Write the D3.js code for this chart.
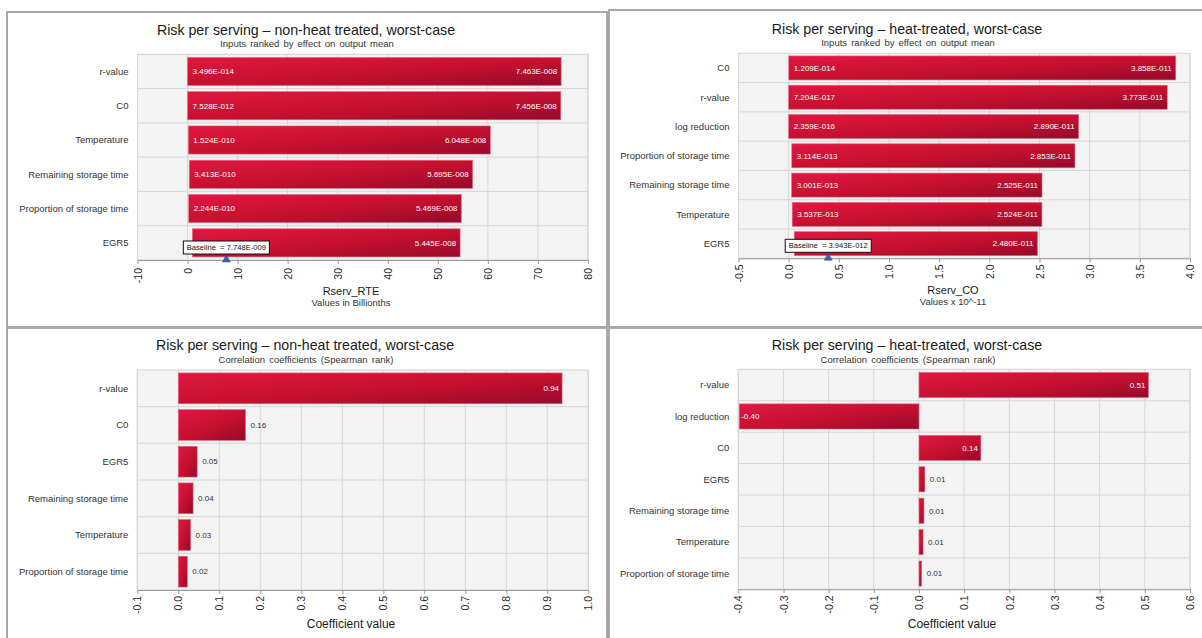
<!DOCTYPE html>
<html><head><meta charset="utf-8">
<script src="https://cdn.jsdelivr.net/npm/d3@7"></script>
<style>
html,body{margin:0;padding:0;background:#fff;}
svg{display:block;font-family:"Liberation Sans",Arial,sans-serif;}
</style></head>
<body>
<svg id="chart" width="1202" height="638"></svg>
<script>
// ---------- DATA ----------
// Top-left tornado: Rserv_RTE (values in billionths)
const tlCategories = ["r-value","C0","Temperature","Remaining storage time","Proportion of storage time","EGR5"];
const tlLow  = [3.496e-5, 0.007528, 0.1524, 0.3413, 0.2244, 0.96];
const tlHigh = [74.63, 74.56, 60.48, 56.95, 54.69, 54.45];
const tlBaseline = 7.748;
const tlTicks = [-10,0,10,20,30,40,50,60,70,80];

// Top-right tornado: Rserv_CO (values x 10^-11)
const trCategories = ["C0","r-value","log reduction","Proportion of storage time","Remaining storage time","Temperature","EGR5"];
const trLow  = [0.001209, 7.204e-6, 2.359e-5, 0.03114, 0.03001, 0.03537, 0.056];
const trHigh = [3.858, 3.773, 2.890, 2.853, 2.525, 2.524, 2.480];
const trBaseline = 0.3943;
const trTicks = [-0.5,0,0.5,1.0,1.5,2.0,2.5,3.0,3.5,4.0];

// Bottom-left: Spearman correlation, non-heat treated
const blCategories = ["r-value","C0","EGR5","Remaining storage time","Temperature","Proportion of storage time"];
const blValues = [0.936, 0.164, 0.046, 0.036, 0.030, 0.022];
const blTicks = [-0.1,0,0.1,0.2,0.3,0.4,0.5,0.6,0.7,0.8,0.9,1.0];

// Bottom-right: Spearman correlation, heat-treated
const brCategories = ["r-value","log reduction","C0","EGR5","Remaining storage time","Temperature","Proportion of storage time"];
const brValues = [0.508, -0.398, 0.137, 0.013, 0.011, 0.009, 0.006];
const brTicks = [-0.4,-0.3,-0.2,-0.1,0,0.1,0.2,0.3,0.4,0.5,0.6];

// ---------- HELPERS ----------
const svg = d3.select("#chart");
const defs = svg.append("defs");
const grad = defs.append("linearGradient").attr("id","barGrad")
  .attr("x1",0).attr("y1",0).attr("x2",1).attr("y2",1);
grad.append("stop").attr("offset","0%").attr("stop-color","#e0173f");
grad.append("stop").attr("offset","55%").attr("stop-color","#c4102f");
grad.append("stop").attr("offset","100%").attr("stop-color","#960a2a");

function sciLabel(v){
  const s = v.toExponential(3);            // e.g. 3.496e-14
  const [m,e] = s.split("e");
  const n = parseInt(e,10);
  const sign = n < 0 ? "-" : "+";
  return m + "E" + sign + String(Math.abs(n)).padStart(3,"0");
}
const f1 = v => (Math.abs(v) < 1e-9 ? 0 : v).toFixed(1);
const f2 = v => v.toFixed(2);

// panel borders
const panels = [[7,12,600,315],[609,10,600,317],[7,328,600,320],[609,328,600,320]];
svg.selectAll("rect.panel").data(panels).join("rect").attr("class","panel")
  .attr("x",d=>d[0]).attr("y",d=>d[1]).attr("width",d=>d[2]).attr("height",d=>d[3])
  .attr("fill","none").attr("stroke","#a9a9a9").attr("stroke-width",2);

function frame(L){
  const g = svg.append("g");
  const x = d3.scaleLinear().domain(L.domain).range([L.l, L.r]);
  const y = d3.scaleBand().domain(L.categories).range([L.t, L.b])
    .paddingInner(L.pad).paddingOuter(L.pad/2);
  g.append("rect").attr("x",L.l).attr("y",L.t).attr("width",L.r-L.l).attr("height",L.b-L.t)
    .attr("fill","#f3f3f3").attr("stroke","#d2d2d2");
  // vertical grid
  g.selectAll("line.vg").data(L.ticks).join("line").attr("class","vg")
    .attr("x1",d=>x(d)).attr("x2",d=>x(d)).attr("y1",L.t).attr("y2",L.b)
    .attr("stroke","#d6d6d6").attr("stroke-width",1);
  // horizontal row separators
  const step = y.step();
  g.selectAll("line.hg").data(L.categories.slice(1)).join("line").attr("class","hg")
    .attr("x1",L.l).attr("x2",L.r)
    .attr("y1",(d,i)=>L.t + step*(i+1)).attr("y2",(d,i)=>L.t + step*(i+1))
    .attr("stroke","#d6d6d6").attr("stroke-width",1);
  // axis
  const ax = g.append("g").attr("transform",`translate(0,${L.b})`)
    .call(d3.axisBottom(x).tickValues(L.ticks).tickFormat(L.tickFmt).tickSize(4).tickSizeOuter(0));
  ax.select(".domain").attr("stroke","#9a9a9a");
  ax.selectAll(".tick line").attr("stroke","#9a9a9a");
  ax.selectAll(".tick text")
    .attr("transform","rotate(-90)")
    .attr("x",-L.tickOff).attr("y",0).attr("dy","0.35em")
    .attr("text-anchor","end")
    .attr("font-size",10.5).attr("fill","#2a2a2a")
    .attr("font-family","'Liberation Sans',Arial,sans-serif");
  // category labels
  g.selectAll("text.cat").data(L.categories).join("text").attr("class","cat")
    .attr("x",L.l-9).attr("y",d=>y(d)+y.bandwidth()/2).attr("dy","0.35em")
    .attr("text-anchor","end").attr("font-size",9.5).attr("fill","#333").text(d=>d);
  // titles
  g.append("text").attr("x",L.titleX).attr("y",L.titleY).attr("text-anchor","middle")
    .attr("font-size",14.2).attr("fill","#1a1a1a").text(L.title);
  g.append("text").attr("x",L.titleX+1).attr("y",L.subY).attr("text-anchor","middle")
    .attr("font-size",9.5).attr("fill","#333").attr("word-spacing",1.5).text(L.subtitle);
  g.append("text").attr("x",L.axX).attr("y",L.axY).attr("text-anchor","middle")
    .attr("font-size",L.axSize).attr("fill","#1a1a1a").text(L.axisTitle);
  if (L.axisSub) g.append("text").attr("x",L.axX).attr("y",L.axSubY).attr("text-anchor","middle")
    .attr("font-size",9.5).attr("fill","#333").text(L.axisSub);
  return {g,x,y};
}

function tornado(L, low, high, baseline, mult){
  const {g,x,y} = frame(L);
  const rows = L.categories.map((c,i)=>({c, lo:low[i], hi:high[i], i}));
  g.selectAll("rect.bar").data(rows).join("rect").attr("class","bar")
    .attr("x",d=>x(d.lo)).attr("y",d=>y(d.c)).attr("width",d=>x(d.hi)-x(d.lo))
    .attr("height",y.bandwidth()).attr("fill","url(#barGrad)")
    .attr("stroke","#e56a84").attr("stroke-width",0.6);
  g.selectAll("text.lo").data(rows.filter(d=>d.i < rows.length-1)).join("text").attr("class","lo")
    .attr("x",d=>x(d.lo)+5).attr("y",d=>y(d.c)+y.bandwidth()/2).attr("dy","0.35em")
    .attr("font-size",8).attr("fill","#fff").text(d=>sciLabel(d.lo*mult));
  g.selectAll("text.hi").data(rows).join("text").attr("class","hi")
    .attr("x",d=>x(d.hi)-4).attr("y",d=>y(d.c)+y.bandwidth()/2).attr("dy","0.35em")
    .attr("text-anchor","end").attr("font-size",8).attr("fill","#fff").text(d=>sciLabel(d.hi*mult));
  // baseline marker
  const bx = x(baseline);
  g.append("path").attr("d",`M${bx-4},${L.b+2}L${bx+4},${L.b+2}L${bx},${L.b-5}Z`)
    .attr("fill","#3d5fae").attr("stroke","#2a4690").attr("stroke-width",0.5);
  const bw = 86, bh = 13;
  g.append("rect").attr("x",bx-bw/2).attr("y",L.b-6-bh).attr("width",bw).attr("height",bh)
    .attr("fill","#fff").attr("stroke","#111").attr("stroke-width",1);
  g.append("text").attr("x",bx).attr("y",L.b-6-bh/2).attr("dy","0.35em").attr("text-anchor","middle")
    .attr("font-size",7.6).attr("fill","#111").attr("xml:space","preserve")
    .text("Baseline  = " + sciLabel(baseline*mult));
}

function corr(L, values, insideMin){
  const {g,x,y} = frame(L);
  const rows = L.categories.map((c,i)=>({c, v:values[i]}));
  g.selectAll("rect.bar").data(rows).join("rect").attr("class","bar")
    .attr("x",d=>x(Math.min(0,d.v))).attr("y",d=>y(d.c))
    .attr("width",d=>Math.abs(x(d.v)-x(0))).attr("height",y.bandwidth())
    .attr("fill","url(#barGrad)").attr("stroke","#e56a84").attr("stroke-width",0.6);
  g.selectAll("text.val").data(rows).join("text").attr("class","val")
    .attr("x",d=>{
      if (Math.abs(d.v) >= insideMin) return d.v<0 ? x(d.v)+2 : x(d.v)-3;
      return x(d.v)+5;
    })
    .attr("y",d=>y(d.c)+y.bandwidth()/2).attr("dy","0.35em")
    .attr("text-anchor",d=> (Math.abs(d.v)>=insideMin && d.v>0) ? "end" : "start")
    .attr("font-size",8).attr("fill",d=>Math.abs(d.v)>=insideMin ? "#fff" : "#333")
    .text(d=>f2(d.v));
}

// ---------- DRAW ----------
tornado({l:137.5,r:588,t:54.3,b:260,domain:[-10,80],ticks:tlTicks,tickFmt:d=>String(d),
  categories:tlCategories,pad:0.18,tickOff:8,
  title:"Risk per serving – non-heat treated, worst-case",subtitle:"Inputs ranked by effect on output mean",
  titleX:306,titleY:35,subY:47,axisTitle:"Rserv_RTE",axisSub:"Values in Billionths",axSize:11,
  axX:351,axY:295,axSubY:306}, tlLow, tlHigh, tlBaseline, 1e-9);

tornado({l:738.5,r:1190,t:53.3,b:258.3,domain:[-0.5,4],ticks:trTicks,tickFmt:f1,
  categories:trCategories,pad:0.18,tickOff:6,
  title:"Risk per serving – heat-treated, worst-case",subtitle:"Inputs ranked by effect on output mean",
  titleX:907,titleY:33.5,subY:45.5,axisTitle:"Rserv_CO",axisSub:"Values x 10^-11",axSize:11,
  axX:953,axY:293.5,axSubY:305}, trLow, trHigh, trBaseline, 1e-11);

corr({l:137.3,r:588.3,t:370,b:590,domain:[-0.1,1.0],ticks:blTicks,tickFmt:f1,
  categories:blCategories,pad:0.16,tickOff:6,
  title:"Risk per serving – non-heat treated, worst-case",subtitle:"Correlation coefficients (Spearman rank)",
  titleX:305,titleY:350,subY:362.5,axisTitle:"Coefficient value",axSize:12,
  axX:351,axY:628}, blValues, 0.5);

corr({l:738.3,r:1190,t:369.3,b:589.3,domain:[-0.4,0.6],ticks:brTicks,tickFmt:f1,
  categories:brCategories,pad:0.2,tickOff:6,
  title:"Risk per serving – heat-treated, worst-case",subtitle:"Correlation coefficients (Spearman rank)",
  titleX:907,titleY:350,subY:362.5,axisTitle:"Coefficient value",axSize:12,
  axX:952,axY:628}, brValues, 0.1);
</script>
</body></html>
